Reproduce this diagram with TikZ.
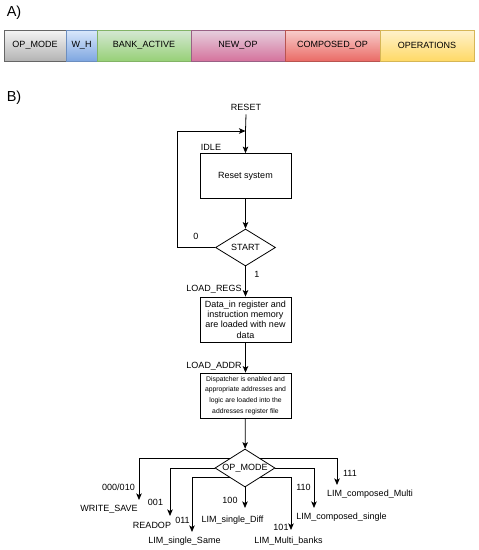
\documentclass[tikz,border=0pt]{standalone}
\usepackage{fontspec}
\setmainfont{Liberation Sans}
\usetikzlibrary{shapes.geometric,arrows.meta,positioning}

\definecolor{grayA}{HTML}{F5F5F5}\definecolor{grayB}{HTML}{B3B3B3}\definecolor{grayE}{HTML}{666666}
\definecolor{blueA}{HTML}{DAE8FC}\definecolor{blueB}{HTML}{7EA6E0}\definecolor{blueE}{HTML}{6C8EBF}
\definecolor{greenA}{HTML}{D5E8D4}\definecolor{greenB}{HTML}{97D077}\definecolor{greenE}{HTML}{82B366}
\definecolor{pinkA}{HTML}{E6D0DE}\definecolor{pinkB}{HTML}{D5739D}\definecolor{pinkE}{HTML}{996185}
\definecolor{redA}{HTML}{F8CECC}\definecolor{redB}{HTML}{EA6B66}\definecolor{redE}{HTML}{B85450}
\definecolor{yellowA}{HTML}{FFF2CC}\definecolor{yellowB}{HTML}{FFD966}\definecolor{yellowE}{HTML}{D6B656}

\tikzset{
    field/.style={minimum height=31pt, inner sep=0pt, line width=0.6pt},
    stepbox/.style={draw, minimum width=91pt, minimum height=45pt, inner sep=1pt, align=center, line width=0.8pt},
    decide/.style={draw, diamond, aspect=1.6, inner sep=0pt, minimum width=60pt, minimum height=37pt, line width=0.8pt},
    tag/.style={inner sep=0pt},
    flow/.style={-{Stealth[length=6.5pt,width=5.5pt,inset=1.5pt]}, line width=0.8pt},
}

\begin{document}
\begin{tikzpicture}[x=1pt, y=-1pt, font=\fontsize{9}{10.4}\selectfont]
    \useasboundingbox (0,0) rectangle (479,550);

    % part A: instruction fields
    \node[tag, font=\fontsize{14.5}{16}\selectfont] (partA) at (14,13) {A)};
    \foreach \name/\xa/\xb/\col/\txt in {opmode/4/66/gray/OP\_MODE, wh/66/97/blue/W\_H,
        bank/97/191/green/BANK\_ACTIVE, newop/191/285/pink/NEW\_OP,
        composed/285/380/red/COMPOSED\_OP, operations/380/474/yellow/OPERATIONS} {
        \node[field, top color=\col A, bottom color=\col B, draw=\col E, minimum width={\xb-\xa}]
            (\name) at ({(\xa+\xb)/2},45.5) {\txt};
    }

    % part B: flow chart
    \node[tag, font=\fontsize{14.5}{16}\selectfont] (partB) at (14,98) {B)};
    \node[tag] (reset) at (246,107) {RESET};
    \node[stepbox] (idle) at (245.5,176) {Reset system};
    \node[tag] (idlelabel) at (211,147) {IDLE};
    \node[decide] (start) at (245.5,247.5) {START};
    \node[stepbox] (regs) at (245.5,319.5) {Data\_in register and\\instruction memory\\are loaded with new\\data};
    \node[tag] (regslabel) at (214,289) {LOAD\_REGS};
    \node[stepbox, font=\fontsize{6.8}{10.7}\selectfont] (addr) at (245.5,395.5)
        {Dispatcher is enabled and\\appropriate addresses and\\logic are loaded into the\\addresses register file};
    \node[tag] (addrlabel) at (214,366) {LOAD\_ADDR};
    \node[decide, minimum height=38pt] (mode) at (245,468) {OP\_MODE};

    \coordinate (loopL) at (177,131);
    \coordinate (loopin) at (245.5,131);
    \draw[line width=0.8pt] ([yshift=-4pt]reset.south) -- (loopin);
    \draw[flow] (loopin) -- (idle);
    \draw[flow] (start.west) -| (loopL) -- (loopin);
    \node[tag] (zero) at (196,236) {0};
    \draw[flow] (idle) -- (start);
    \draw[flow] (start) -- (regs);
    \node[tag] (one) at (257,274) {1};
    \draw[flow] (regs) -- (addr);
    \draw[flow] (addr) -- (mode);

    % OP_MODE branches
    \coordinate (tipWS) at (139,500);
    \coordinate (tipRD) at (170,516);
    \coordinate (tipSS) at (192,532);
    \coordinate (tipSD) at (245,508);
    \coordinate (tipMB) at (291,530);
    \coordinate (tipCS) at (314,508);
    \coordinate (tipCM) at (337,485);
    \draw[flow] (mode.north west) -| (tipWS);
    \draw[flow] (mode.west) -| (tipRD);
    \draw[flow] (mode.south west) -| (tipSS);
    \draw[flow] (mode.south) -- (tipSD);
    \draw[flow] (mode.south east) -| (tipMB);
    \draw[flow] (mode.east) -| (tipCS);
    \draw[flow] (mode.north east) -| (tipCM);

    \node[tag] (codeWS) at (118.5,487) {000/010};
    \node[tag] (WS) at (109,509) {WRITE\_SAVE};
    \node[tag] (codeRD) at (155.5,502) {001};
    \node[tag] (RD) at (152,525) {READOP};
    \node[tag] (codeSS) at (182.5,520) {011};
    \node[tag] (SS) at (184.5,541) {LIM\_single\_Same};
    \node[tag] (codeSD) at (230,500) {100};
    \node[tag] (SD) at (232.5,520) {LIM\_single\_Diff};
    \node[tag] (codeMB) at (281,527) {101};
    \node[tag] (MB) at (288.5,541) {LIM\_Multi\_banks};
    \node[tag] (codeCS) at (303.5,487) {110};
    \node[tag] (CS) at (341.5,517) {LIM\_composed\_single};
    \node[tag] (codeCM) at (350,473) {111};
    \node[tag] (CM) at (370,494) {LIM\_composed\_Multi};
\end{tikzpicture}
\end{document}
